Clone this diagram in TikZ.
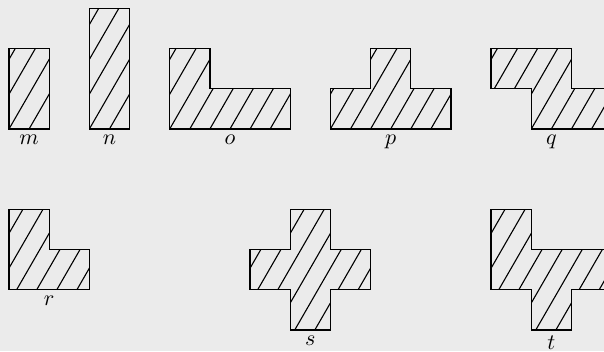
\documentclass[tikz,border=0pt]{standalone}
\usepackage{tikz}

\definecolor{bggray}{RGB}{235,235,235}

\tikzset{
  piece/.style={draw, line width=0.6pt, line join=miter,
    path picture={
      \foreach \k in {-6,...,38}
        \draw[hatch] (\k*0.5-3.464,-6) -- (\k*0.5+2.309,4);
    }},
  hatch/.style={line width=0.5pt},
  tag/.style={anchor=north, inner sep=2.6pt}
}

\begin{document}
\begin{tikzpicture}[x=0.64cm, y=0.64cm]
    % Background
    \path[use as bounding box, fill=bggray] (-0.224,-5.527) rectangle (14.81,3.211);

    % Top row
    \path[piece] (0,0) rectangle (1,2);
    \node[tag] (m) at (0.5,0) {$m$};

    \path[piece] (2,0) rectangle (3,3);
    \node[tag] (n) at (2.5,0) {$n$};

    \path[piece] (4,0) -- (7,0) -- (7,1) -- (5,1) -- (5,2) -- (4,2) -- cycle;
    \node[tag] (o) at (5.5,0) {$o$};

    \path[piece] (8,0) -- (11,0) -- (11,1) -- (10,1) -- (10,2) -- (9,2) -- (9,1) -- (8,1) -- cycle;
    \node[tag] (p) at (9.5,0) {$p$};

    \path[piece] (12,2) -- (14,2) -- (14,1) -- (15,1) -- (15,0) -- (13,0) -- (13,1) -- (12,1) -- cycle;
    \node[tag] (q) at (13.5,0) {$q$};

    % Bottom row
    \path[piece] (0,-4) -- (2,-4) -- (2,-3) -- (1,-3) -- (1,-2) -- (0,-2) -- cycle;
    \node[tag] (r) at (1,-4) {$r$};

    \path[piece] (7,-5) -- (8,-5) -- (8,-4) -- (9,-4) -- (9,-3) -- (8,-3) -- (8,-2) -- (7,-2)
        -- (7,-3) -- (6,-3) -- (6,-4) -- (7,-4) -- cycle;
    \node[tag] (s) at (7.5,-5) {$s$};

    \path[piece] (12,-2) -- (13,-2) -- (13,-3) -- (15,-3) -- (15,-4) -- (14,-4) -- (14,-5)
        -- (13,-5) -- (13,-4) -- (12,-4) -- cycle;
    \node[tag] (t) at (13.5,-5) {$t$};
\end{tikzpicture}
\end{document}
